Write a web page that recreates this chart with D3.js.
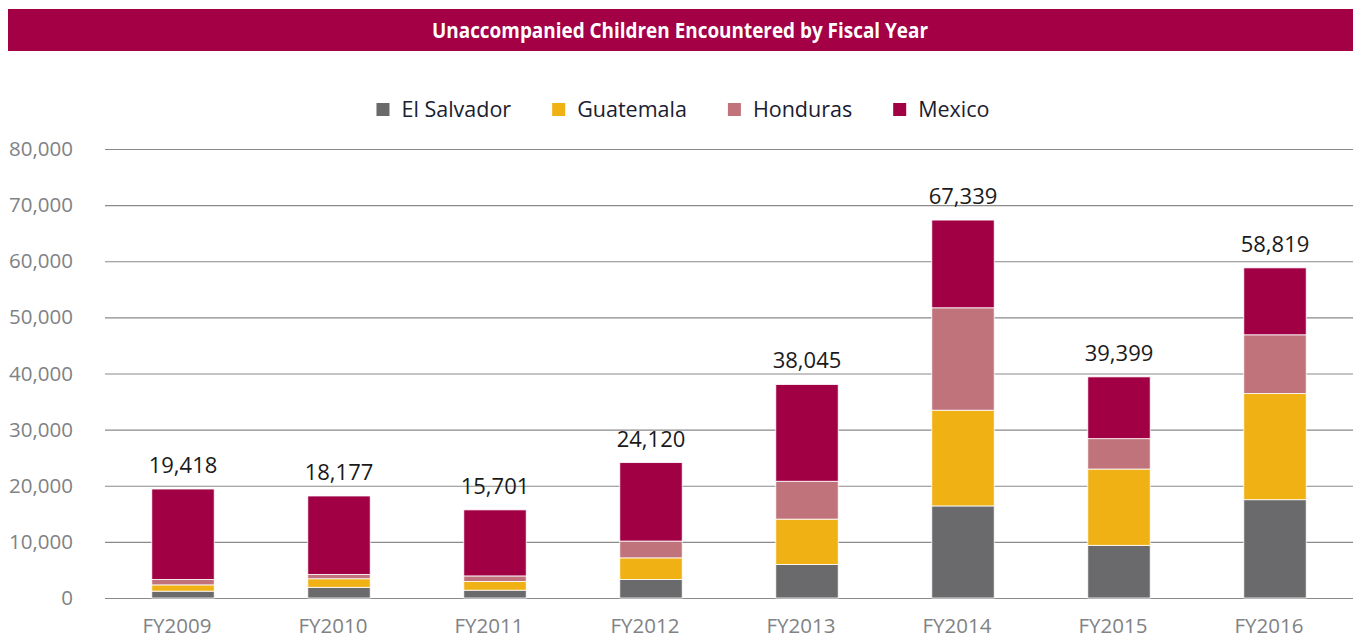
<!DOCTYPE html>
<html><head><meta charset="utf-8">
<script src="https://cdn.jsdelivr.net/npm/d3@7"></script>
<style>
html,body{margin:0;padding:0;background:#fff;}
svg{display:block;}
</style></head>
<body><svg id="c" width="1353" height="639"></svg>
<script>
const title = "Unaccompanied Children Encountered by Fiscal Year";
const years = ["FY2009","FY2010","FY2011","FY2012","FY2013","FY2014","FY2015","FY2016"];
const series = ["El Salvador","Guatemala","Honduras","Mexico"];
const elSalvador = [1221,1910,1394,3314,5990,16404,9389,17512];
const guatemala  = [1115,1517,1565,3835,8068,17057,13589,18913];
const honduras   = [968,780,974,2997,6747,18244,5409,10468];
const mexico     = [16114,13970,11768,13974,17240,15634,11012,11926];
const totals     = [19418,18177,15701,24120,38045,67339,39399,58819];
const yTicks     = [0,10000,20000,30000,40000,50000,60000,70000,80000];
const colors     = ["#6a696b","#f0b114","#c0737b","#a10045"];

const svg = d3.select("#c");
const M = {left:105, right:1353, top:149, bottom:598};
const x = d3.scaleBand().domain(years).range([M.left, M.right]).paddingInner(0.6).paddingOuter(0.3);
const y = d3.scaleLinear().domain([0,80000]).range([M.bottom, M.top]);
const color = d3.scaleOrdinal().domain(series).range(colors);

// Title banner
svg.append("rect").attr("x",8).attr("y",9).attr("width",1345).attr("height",42).attr("fill","#a30046");
svg.append("text").attr("x",680).attr("y",38).attr("text-anchor","middle")
  .attr("font-family","'Open Sans',sans-serif")
  .attr("font-weight","bold").attr("font-size",21)
  .attr("textLength",496).attr("lengthAdjust","spacingAndGlyphs")
  .attr("fill","#fff").text(title);

// Grid + y axis
const yAxis = d3.axisLeft(y).tickValues(yTicks).tickFormat(d3.format(",")).tickSize(-(M.right-M.left)).tickPadding(32);
const gy = svg.append("g").attr("transform",`translate(${M.left},0)`).call(yAxis);
gy.select(".domain").remove();
gy.selectAll(".tick line").attr("stroke","#8a8a8a").attr("stroke-width",1.2);
gy.selectAll(".tick text").attr("fill","#808285").attr("font-family","'Open Sans',sans-serif").attr("font-size",20.5);

// Stacked bars
const rows = years.map((yr,i)=>({year:yr,"El Salvador":elSalvador[i],"Guatemala":guatemala[i],"Honduras":honduras[i],"Mexico":mexico[i]}));
const stack = d3.stack().keys(series)(rows);
svg.append("g").selectAll("g").data(stack).join("g").attr("fill",d=>color(d.key))
  .selectAll("rect").data(d=>d).join("rect")
  .attr("x",d=>x(d.data.year)).attr("width",x.bandwidth())
  .attr("y",d=>y(d[1])).attr("height",d=>y(d[0])-y(d[1]))
  .attr("stroke","#fff").attr("stroke-width",0.8);

// Total labels
svg.append("g").selectAll("text").data(years).join("text")
  .attr("x",d=>x(d)+x.bandwidth()/2).attr("y",(d,i)=>y(totals[i])-16)
  .attr("text-anchor","middle").attr("font-family","'Open Sans',sans-serif").attr("font-size",22)
  .attr("fill","#1a1a1a").text((d,i)=>d3.format(",")(totals[i]));

// X axis labels
const xAxis = d3.axisBottom(x).tickSize(0).tickPadding(20);
const gx = svg.append("g").attr("transform",`translate(-6,${M.bottom})`).call(xAxis);
gx.select(".domain").remove();
gx.selectAll(".tick text").attr("fill","#808285").attr("font-family","'Open Sans',sans-serif").attr("font-size",20.5);

// Legend
const lg = svg.append("g");
let lx = 0;
series.forEach((s,i)=>{
  const g = lg.append("g").attr("transform",`translate(${lx},0)`);
  g.append("rect").attr("x",0).attr("y",-14).attr("width",13).attr("height",13).attr("fill",colors[i]);
  const t = g.append("text").attr("x",25).attr("y",0).attr("font-family","'Open Sans',sans-serif")
    .attr("font-size",21.5).attr("fill","#1a2030").text(s);
  lx += 25 + t.node().getComputedTextLength() + 41;
});
const lw = lx - 41;
lg.attr("transform",`translate(${683 - lw/2},117)`);
</script></body></html>
